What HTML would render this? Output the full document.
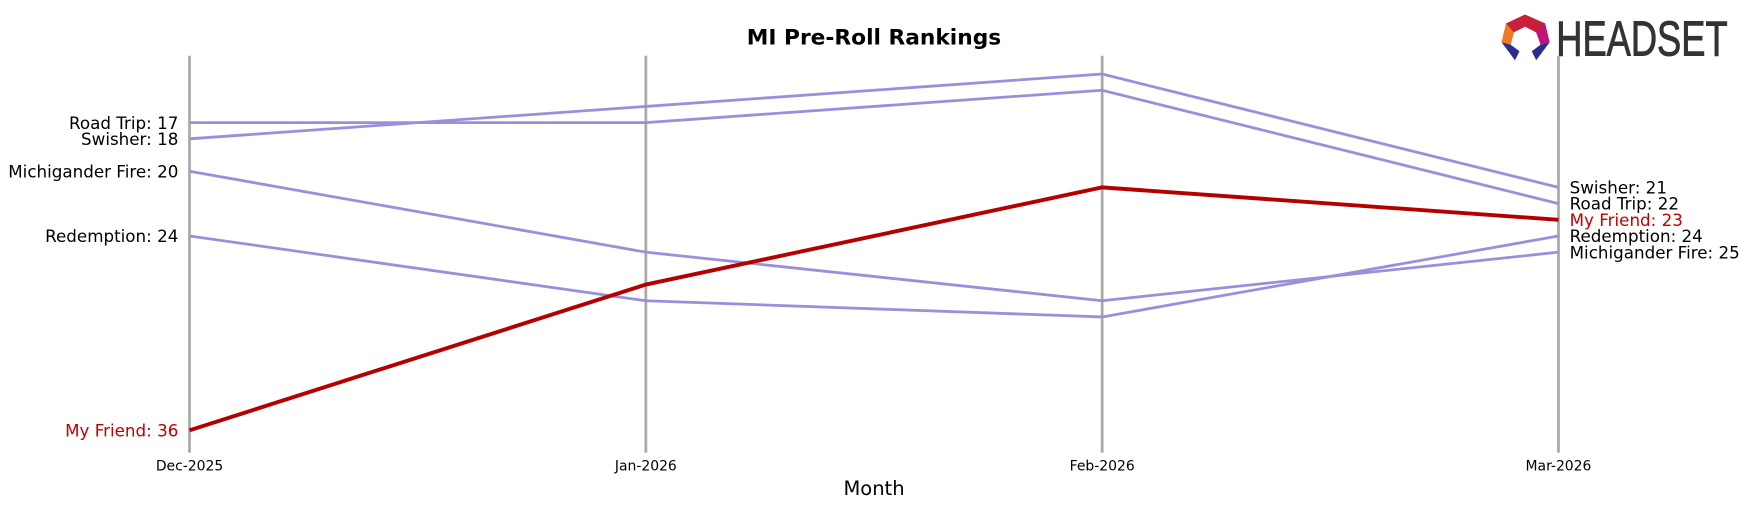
<!DOCTYPE html>
<html><head><meta charset="utf-8"><style>
body{margin:0;background:#fff;width:1748px;height:507px;overflow:hidden;font-family:"DejaVu Sans","Liberation Sans",sans-serif}
</style></head><body>
<svg id="chart" width="1748" height="507" xmlns="http://www.w3.org/2000/svg" font-family="DejaVu Sans, Liberation Sans, sans-serif">
<g transform="scale(1.1148)">
<text x="784" y="40" text-anchor="middle" font-size="19.5" font-weight="bold">MI Pre-Roll Rankings</text>
<g>
<polygon points="1368,13 1386,21 1390,38 1382,40 1378,29 1368,24 1358,29 1355,40 1347,38 1351,21" fill="#c8203a"/>
<polygon points="1351,21 1358,29 1355,40 1347,38" fill="#f07a20"/>
<polygon points="1386,21 1390,38 1382,40 1378,29" fill="#c0147a"/>
<polygon points="1347,38 1355,40 1363,46 1359,54" fill="#2a2f8f"/>
<polygon points="1390,38 1382,40 1374,46 1378,54" fill="#2a2f8f"/>
<text x="1396" y="50" font-size="44" fill="#333" stroke="#333" stroke-width="0.8" font-family="Liberation Sans, sans-serif" transform="translate(1396 0) scale(0.74 1) translate(-1396 0)">HEADSET</text>
</g>
<g id="axes"></g><g id="lines"></g><g id="labels"></g>
<text x="784" y="444" text-anchor="middle" font-size="17.5">Month</text>
</g>
</svg>
<script>
const months=["Dec-2025","Jan-2026","Feb-2026","Mar-2026"];
const brands=["Road Trip","Swisher","Michigander Fire","Redemption","My Friend"];
const roadTrip=[17,17,15,22];
const swisher=[18,16,14,21];
const michigander=[20,25,28,25];
const redemption=[24,28,29,24];
const myFriend=[36,27,21,23];
const series=[roadTrip,swisher,michigander,redemption,myFriend];
const NS="http://www.w3.org/2000/svg";
const x=i=>170+i*409.33;
const y=r=>110+(r-17)*14.526;
function mk(t,a,p){const e=document.createElementNS(NS,t);for(const k in a)e.setAttribute(k,a[k]);p.appendChild(e);return e;}
const ax=document.getElementById('axes');
months.forEach((m,i)=>{
 const l=mk('line',{x1:x(i),x2:x(i),y1:50,y2:406,stroke:'#aaa','stroke-width':2.5},ax);
 
 
 const t=mk('text',{x:x(i),y:422,'text-anchor':'middle','font-size':12.5},ax);
 t.textContent=m;
 
 
});
const lg=document.getElementById('lines'),lb=document.getElementById('labels');
series.forEach((s,k)=>{
 const red=k===4;
 const p=mk('polyline',{points:s.map((v,i)=>x(i)+','+y(v)).join(' '),fill:'none',stroke:red?'#b30000':'#9b8fdb','stroke-width':red?3.5:2.5},lg);
 
 
 const c=red?'#c00000':'#000';
 const a=mk('text',{x:160,y:y(s[0])+5.5,'text-anchor':'end','font-size':15,fill:c},lb);
 a.textContent=brands[k]+': '+s[0];
 
 
 const b=mk('text',{x:1408,y:y(s[3])+5.5,'font-size':15,fill:c},lb);
 b.textContent=brands[k]+': '+s[3];
 
 
});
</script>
</body></html>
